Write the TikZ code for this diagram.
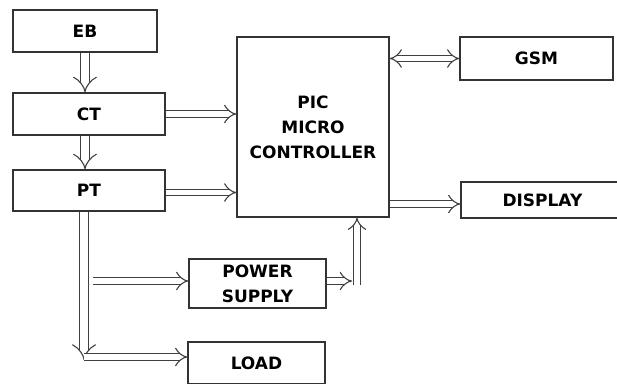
\documentclass[tikz,border=0pt]{standalone}
\usepackage{fontspec}
\setmainfont{DejaVu Sans}
\usetikzlibrary{arrows.meta, positioning, calc}
\tikzset{
    blockdiagram/.style={x=1pt, y=-1pt, font=\bfseries\fontsize{17}{25}\selectfont},
    blk/.style={draw=black!80, line width=1.2pt, inner sep=0pt, align=center},
    % hollow double-line arrows
    dbl/.style={draw=black!75, line width=1.1pt, double=white, double distance=5.5pt, -{Implies[scale=0.65]}},
    dblv/.style={dbl, double distance=7.5pt},
}
\begin{document}
\begin{tikzpicture}[blockdiagram]
    \useasboundingbox (0,0) rectangle (617,383);
    \clip (0,0) rectangle (617,383);

    \node[blk, minimum width=144pt, minimum height=42pt]  (eb)      at (85,31)      {EB};
    \node[blk, minimum width=152pt, minimum height=42pt]  (ct)      at (89,114)     {CT};
    \node[blk, minimum width=152pt, minimum height=41pt]  (pt)      at (89,190.5)   {PT};
    \node[blk, minimum width=152pt, minimum height=180pt] (mc)      at (313,127)    {PIC\\MICRO\\CONTROLLER};
    \node[blk, minimum width=153pt, minimum height=43pt]  (gsm)     at (536.5,58.5) {GSM};
    \node[blk, minimum width=179pt, minimum height=36pt, text width=156pt, align=left] (display) at (550.5,200) {\hspace{30pt}DISPLAY};
    \node[blk, minimum width=137pt, minimum height=49pt]  (ps)      at (257.5,283.5) {POWER\\SUPPLY};
    \node[blk, minimum width=137pt, minimum height=42pt]  (load)    at (256.5,363)  {LOAD};

    \coordinate (pdown) at (84,360);
    \coordinate (tap)   at (93,281);
    \coordinate (psout) at (352,281);
    \coordinate (psup)  at (357,285);

    \draw[dblv] (eb.south) -- (eb.south |- ct.north);
    \draw[dblv] (ct.south -| eb.south) -- (pt.north -| eb.south);
    \draw[dbl] (ct.east) -- (ct -| mc.west);
    \draw[dbl] ([yshift=-2pt]pt.east) -- ([yshift=-2pt]pt -| mc.west);
    \draw[dbl, {Implies[scale=0.65]}-{Implies[scale=0.65]}] (gsm.west -| mc.east) -- (gsm.west);
    \draw[dbl] ([yshift=-4pt]display.west -| mc.east) -- ([yshift=-4pt]display.west);

    % supply side
    \draw[dblv] (pt.south -| pdown) -- (pdown);
    \draw[dbl] ([yshift=3pt]pdown) -- ([yshift=3pt]pdown -| load.west);
    \draw[dbl] (tap) -- (tap -| ps.west);
    \draw[dbl] (ps.east |- psout) -- (psout);
    \draw[dbl] (psup) -- (psup |- mc.south);
\end{tikzpicture}
\end{document}
